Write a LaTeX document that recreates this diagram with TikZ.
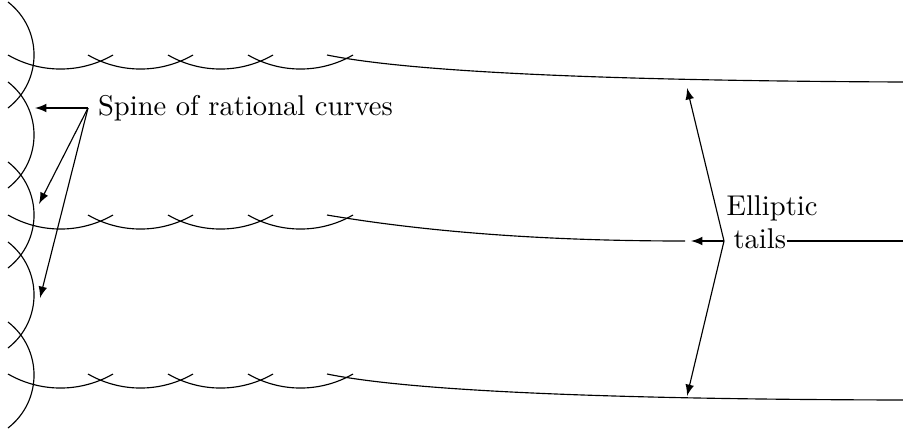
\documentclass[tikz,border=0pt]{standalone}
\usetikzlibrary{arrows}
\begin{document}
\begin{tikzpicture}[x=0.35pt,y=-0.35pt,
  curve/.style={line width=0.4pt},
  pointer/.style={-latex,line width=0.4pt},
  label/.style={font=\normalsize}]
\useasboundingbox (0,0) rectangle (903,430);
% spine of rational curves
\foreach \c in {55,135,215,295,375}
  \draw[curve] (8,\c-53) .. controls (42.7,\c-26.1) and (42.7,\c+26.1) .. (8,\c+53);
% rows of rational curves
\foreach \r in {55,215,374}
  \foreach \x in {8,88,168,248}
    \draw[curve] (\x,\r) .. controls (\x+32.5,\r+18.7) and (\x+72.5,\r+18.7) .. (\x+105,\r);
% elliptic tails
\draw[curve] (327,55) .. controls (409,71.7) and (601,80.7) .. (903,82);
\draw[curve] (327,215) .. controls (429,232.3) and (548.3,241) .. (685,241);
\draw[curve] (327,374) .. controls (409,390.7) and (601,399.3) .. (903,400);
% spine label
\node[label,anchor=west] (spine) at (88,108) {Spine of rational curves};
\coordinate (s1) at (35,108);
\coordinate (s2) at (39,204);
\coordinate (s3) at (40,298);
\draw[pointer] (spine.west) -- (s1);
\draw[pointer] (spine.west) -- (s2);
\draw[pointer] (spine.west) -- (s3);
% elliptic tails label
\node[label,anchor=base west,inner sep=0pt] (ell) at (726,215) {Elliptic};
\node[label,anchor=base west,inner sep=0pt] (tails) at (733,248) {tails};
\coordinate (eapex) at (724,241);
\coordinate (e1) at (687,88);
\coordinate (e2) at (691,241);
\coordinate (e3) at (687,396);
\coordinate (eend) at (903,241);
\draw[pointer] (eapex) -- (e1);
\draw[pointer] (eapex) -- (e2);
\draw[pointer] (eapex) -- (e3);
\draw[curve] (tails.east |- eapex) -- (eend);
\end{tikzpicture}
\end{document}
